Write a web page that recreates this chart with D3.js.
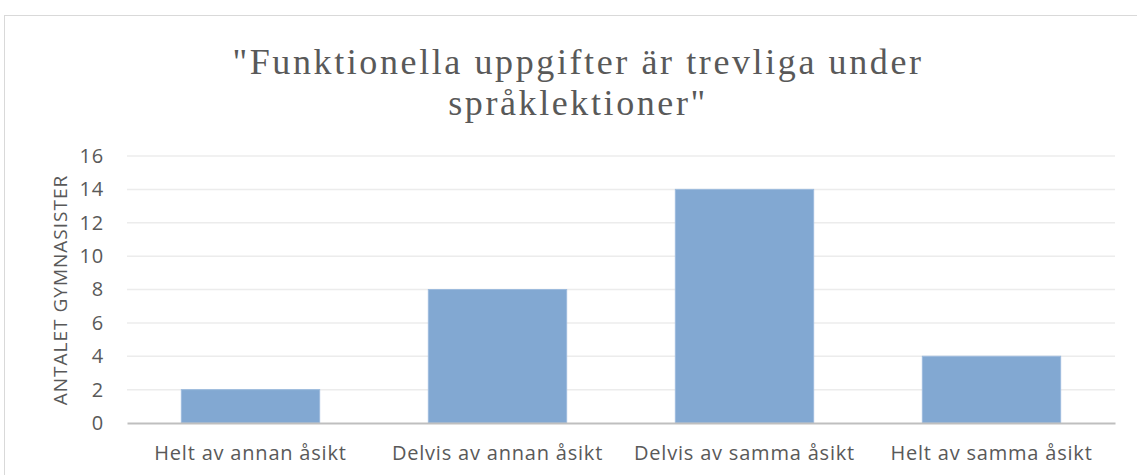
<!DOCTYPE html>
<html>
<head>
<meta charset="utf-8">
<script src="https://cdn.jsdelivr.net/npm/d3@7"></script>
<style>
  body { margin: 0; background: #fff; }
  .tick text { font-family: "Open Sans", sans-serif; fill: #595959; }
</style>
</head>
<body>
<svg id="chart"></svg>
<script>
// DATA
var categories = ["Helt av annan åsikt", "Delvis av annan åsikt", "Delvis av samma åsikt", "Helt av samma åsikt"];
var values = [2, 8, 14, 4];
var yTicks = [0, 2, 4, 6, 8, 10, 12, 14, 16];
var titleLines = ["\"Funktionella uppgifter är trevliga under", "språklektioner\""];
var yLabel = "ANTALET GYMNASISTER";

// SIZING
var W = 1137, H = 475;
var margin = {top: 156, right: 22, bottom: 52, left: 127};
var width = W - margin.left - margin.right;
var height = H - margin.top - margin.bottom;

var svg = d3.select("#chart").attr("width", W).attr("height", H);

// chart frame
svg.append("rect")
  .attr("x", 4.5).attr("y", 15.5)
  .attr("width", 1140).attr("height", 480)
  .style("fill", "none").style("stroke", "#d9d9d9");

// TITLE
svg.append("g").selectAll("text")
  .data(titleLines)
  .enter().append("text")
  .attr("x", 578)
  .attr("y", function(d, i) { return 74 + i * 41; })
  .attr("text-anchor", "middle")
  .style("font-family", "Liberation Serif, serif")
  .style("font-size", "36px")
  .style("letter-spacing", "2.6px")
  .style("fill", "#595959")
  .text(function(d) { return d; });

var g = svg.append("g")
  .attr("transform", "translate(" + margin.left + "," + margin.top + ")");

var x = d3.scaleBand()
  .domain(categories)
  .range([0, width])
  .paddingInner(0.44)
  .paddingOuter(0.22);

var y = d3.scaleLinear()
  .domain([0, 16])
  .range([height, 0]);

// GRID
g.append("g")
  .selectAll("line")
  .data(yTicks.filter(function(d) { return d > 0; }))
  .enter().append("line")
  .attr("x1", 0).attr("x2", width)
  .attr("y1", function(d) { return y(d); })
  .attr("y2", function(d) { return y(d); })
  .style("stroke", "#ececec")
  .style("stroke-width", 1.5);

// BARS
g.append("g")
  .selectAll("rect")
  .data(values)
  .enter().append("rect")
  .attr("x", function(d, i) { return x(categories[i]); })
  .attr("y", function(d) { return y(d); })
  .attr("width", x.bandwidth())
  .attr("height", function(d) { return height - y(d); })
  .style("fill", "#82a8d2")
  .style("stroke", "#9dbbdd")
  .style("stroke-width", 1);

// AXES
var yAxis = g.append("g")
  .call(d3.axisLeft(y).tickValues(yTicks).tickSize(0).tickPadding(23));
yAxis.select(".domain").remove();
yAxis.selectAll("text").style("font-size", "20px").style("letter-spacing", "0.8px");

var xAxis = g.append("g")
  .attr("transform", "translate(0," + height + ")")
  .call(d3.axisBottom(x).tickSize(0).tickPadding(23));
xAxis.select(".domain").style("stroke", "#bfbfbf").style("stroke-width", 2);
xAxis.selectAll("text").style("font-size", "20px").style("letter-spacing", "0.8px");

// Y LABEL
svg.append("text")
  .attr("transform", "translate(67," + 290 + ") rotate(-90)")
  .attr("text-anchor", "middle")
  .style("font-family", "Open Sans, sans-serif")
  .style("font-size", "19px")
  .style("letter-spacing", "1px")
  .style("fill", "#595959")
  .text(yLabel);
</script>
</body>
</html>
